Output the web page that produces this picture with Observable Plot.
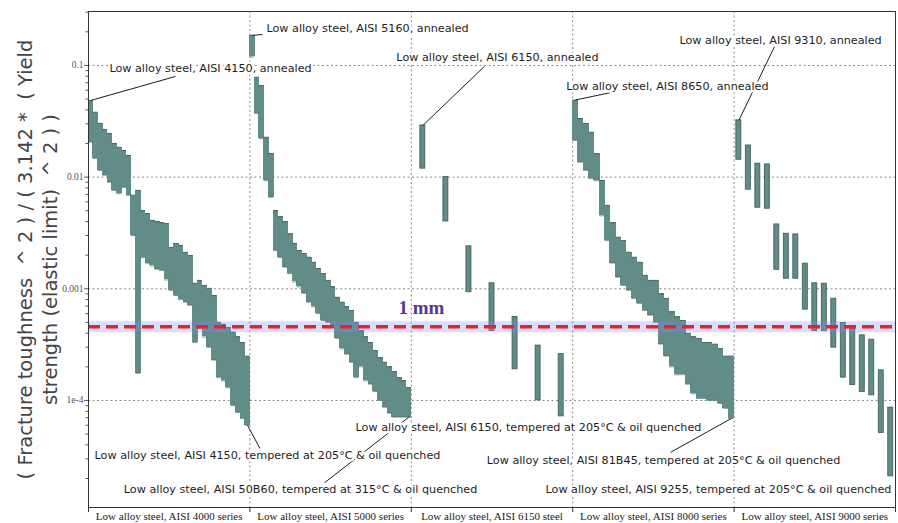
<!DOCTYPE html>
<html><head><meta charset="utf-8">
<script src="https://cdn.jsdelivr.net/npm/d3@7"></script>
<script src="https://cdn.jsdelivr.net/npm/@observablehq/plot@0.6"></script>
<style>
html,body{margin:0;padding:0;background:#fff;}
#chart svg{background:#fff;}
</style>
</head><body><div id="chart"></div>
<script>
// ---------- data ----------
const groups = [
  "Low alloy steel, AISI 4000 series",
  "Low alloy steel, AISI 5000 series",
  "Low alloy steel, AISI 6150 steel",
  "Low alloy steel, AISI 8000 series",
  "Low alloy steel, AISI 9000 series"
];

const hi4000 = [0.0486,0.0382,0.0303,0.0267,0.0246,0.0200,0.0185,0.0173,0.0156,0.0069,0.0076,0.0050,0.0047,0.0041,0.0040,0.0039,0.00385,0.00235,0.00255,0.00245,0.00212,0.00199,0.00112,0.00119,0.00107,0.00101,0.00087,0.00050,0.00048,0.00045,0.00041,0.00037,0.00033,0.00025];
const lo4000 = [0.0206,0.0147,0.0115,0.0104,0.0090,0.0076,0.0071,0.0081,0.0069,0.0030,0.000175,0.0019,0.0017,0.0016,0.0015,0.00146,0.0012,0.00097,0.00087,0.00080,0.00076,0.00071,0.00033,0.00044,0.00037,0.00030,0.00023,0.00016,0.00015,0.00013,0.00009,0.000078,0.000069,0.000060];

const hi5000 = [0.186,0.0786,0.0662,0.0228,0.0163,0.0050,0.0044,0.0040,0.0031,0.00255,0.00221,0.00207,0.00192,0.00173,0.00152,0.00137,0.00119,0.00104,0.00084,0.00076,0.00069,0.00064,0.00050,0.00042,0.00037,0.00033,0.00028,0.00024,0.00022,0.00020,0.00018,0.00016,0.00015,0.00013];
const lo5000 = [0.119,0.0372,0.0222,0.0093,0.0066,0.0022,0.0019,0.00156,0.00137,0.00115,0.00104,0.00091,0.00076,0.00069,0.00060,0.00052,0.00050,0.00045,0.00036,0.00029,0.00026,0.00022,0.00016,0.00020,0.00015,0.00014,0.00012,0.00010,0.000087,0.000077,0.000071,0.000071,0.000071,0.000071];

const hi6150 = [0.029,0.010,0.0024,0.00112,0.00056,0.00031,0.00026];
const lo6150 = [0.0119,0.0040,0.00093,0.00042,0.00019,0.00010,0.000072];

const hi8000 = [0.049,0.0333,0.0301,0.0253,0.0162,0.0093,0.0056,0.0039,0.0029,0.0027,0.00213,0.00192,0.00173,0.00132,0.00119,0.00119,0.00090,0.00082,0.00062,0.00056,0.00052,0.00040,0.00037,0.00036,0.00033,0.00033,0.00032,0.00029,0.00025,0.00025];
const lo8000 = [0.0213,0.0136,0.0115,0.0097,0.0093,0.0045,0.0027,0.0017,0.00127,0.00107,0.00097,0.00082,0.00074,0.00064,0.00058,0.00050,0.00032,0.00025,0.00020,0.00017,0.00017,0.00014,0.000115,0.000104,0.000104,0.000100,0.000100,0.000094,0.000085,0.000069];

const hi9000 = [0.0322,0.0192,0.0132,0.0130,0.00377,0.00311,0.00307,0.00168,0.00112,0.00111,0.000815,0.000493,0.000440,0.000383,0.000350,0.000186,0.0000863];
const lo9000 = [0.0143,0.00771,0.00532,0.00521,0.00148,0.00123,0.00123,0.00065,0.000418,0.000418,0.000297,0.000160,0.000137,0.000119,0.000111,0.0000511,0.0000209];

const yTicks = [1e-4, 1e-3, 1e-2, 1e-1];
const yTickLabels = ["1e-4", "0.001", "0.01", "0.1"];
const yMinorTicks = [2e-5,3e-5,4e-5,5e-5,6e-5,7e-5,8e-5,9e-5,
  2e-4,3e-4,4e-4,5e-4,6e-4,7e-4,8e-4,9e-4,
  2e-3,3e-3,4e-3,5e-3,6e-3,7e-3,8e-3,9e-3,
  0.02,0.03,0.04,0.05,0.06,0.07,0.08,0.09,0.2,0.3];
const yTitle = ["( Fracture toughness \u00A0^ 2 ) / ( 3.142 * \u00A0( Yield",
                "strength (elastic limit) \u00A0^ 2 ) )"];
const thresholdValue = 4.57e-4;
const thresholdLabel = "1 mm";

const annotationTexts = [
  "Low alloy steel, AISI 4150, annealed",
  "Low alloy steel, AISI 5160, annealed",
  "Low alloy steel, AISI 6150, annealed",
  "Low alloy steel, AISI 8650, annealed",
  "Low alloy steel, AISI 9310, annealed",
  "Low alloy steel, AISI 4150, tempered at 205°C & oil quenched",
  "Low alloy steel, AISI 50B60, tempered at 315°C & oil quenched",
  "Low alloy steel, AISI 6150, tempered at 205°C & oil quenched",
  "Low alloy steel, AISI 81B45, tempered at 205°C & oil quenched",
  "Low alloy steel, AISI 9255, tempered at 205°C & oil quenched"
];

// ---------- layout (annotation placement, in data units) ----------
const annLayout = [
  {bar:[0,0,"hi"],  tx:0.756, ty:0.094,   lx:0.539, ly:0.0797},
  {bar:[1,0,"hi"],  tx:1.729, ty:0.214,   lx:1.078, ly:0.189},
  {bar:[2,0,"hi"],  tx:2.534, ty:0.118,   lx:2.453, ly:0.098},
  {bar:[3,0,"hi"],  tx:3.587, ty:0.0648,  lx:3.232, ly:0.0570},
  {bar:[4,0,"hi"],  tx:4.288, ty:0.1675,  lx:4.250, ly:0.147},
  {bar:[0,-1,"lo"], tx:1.109, ty:3.23e-5, lx:1.062, ly:3.72e-5},
  {bar:[1,-1,"lo"], tx:1.314, ty:1.60e-5, lx:1.462, ly:1.83e-5},
  {bar:null,        tx:2.726, ty:5.74e-5},
  {bar:[3,-1,"lo"], tx:3.563, ty:2.91e-5, lx:3.606, ly:3.43e-5},
  {bar:null,        tx:3.903, ty:1.60e-5}
];

// ---------- build ----------
const series = [
  {hi: hi4000, lo: lo4000},
  {hi: hi5000, lo: lo5000},
  {hi: hi6150, lo: lo6150},
  {hi: hi8000, lo: lo8000},
  {hi: hi9000, lo: lo9000}
];
const rows = series.flatMap((s, g) => s.hi.map((h, j) => {
  const n = s.hi.length;
  return {g, j, n, hi: h, lo: s.lo[j], x1: g + j / n, x2: g + (j + 1) / n, xc: g + (j + 0.5) / n};
}));

const W = 898, H = 523, mL = 88, mR = 3, mT = 11, mB = 16;
const teal = "#618c87", edge = "#3a5955";
const barW = 5;

const barMarks = series.flatMap((s, g) => {
  const n = s.hi.length;
  const slot = (W - mL - mR) / 5 / n;
  const dense = slot < 7;
  const inset = dense ? -0.4 : (slot - barW) / 2;
  const data = rows.filter(r => r.g === g);
  const m = [Plot.rect(data, {x1: "x1", x2: "x2", y1: "lo", y2: "hi", fill: teal,
    insetLeft: inset, insetRight: inset, shapeRendering: dense ? "crispEdges" : "auto",
    stroke: dense ? "none" : edge, strokeWidth: dense ? 0 : 0.8})];
  if (dense) {
    m.push(Plot.ruleY(data, {x1: "x1", x2: "x2", y: "hi", stroke: edge, strokeWidth: 0.8, strokeOpacity: 0.8}));
    m.push(Plot.ruleY(data, {x1: "x1", x2: "x2", y: "lo", stroke: edge, strokeWidth: 0.8, strokeOpacity: 0.8}));
  }
  return m;
});

const annRows = annotationTexts.map((t, i) => ({text: t, ...annLayout[i]}));
const leaderRows = annRows.filter(a => a.bar).map(a => {
  const [g, j, end] = a.bar;
  const gr = rows.filter(r => r.g === g);
  const b = j < 0 ? gr[gr.length - 1] : gr[j];
  return {x1: b.xc, y1: b[end], x2: a.lx, y2: a.ly};
});

const chart = Plot.plot({
  width: W, height: H,
  marginLeft: mL, marginRight: mR, marginTop: mT, marginBottom: mB,
  x: {domain: [0, 5], axis: null},
  y: {type: "log", domain: [1.1e-5, 0.304], axis: null},
  style: {background: "#fff"},
  marks: [
    Plot.ruleY(yTicks, {stroke: "#8a8a8a", strokeDasharray: "2,2.5", strokeWidth: 1}),
    Plot.ruleX([1, 2, 3, 4], {stroke: "#8a8a8a", strokeDasharray: "2,2.5", strokeWidth: 1}),
    ...barMarks,
    Plot.ruleY([thresholdValue], {stroke: "#8090ff", strokeOpacity: 0.3, strokeWidth: 11}),
    Plot.ruleY([thresholdValue], {stroke: "#e6222b", strokeWidth: 3.5, strokeDasharray: "12,6"}),
    Plot.text([thresholdLabel], {x: 2.063, y: 6.68e-4, text: d => d, fontFamily: "Liberation Serif",
      fontWeight: "bold", fontSize: 19, fill: "#553590"}),
    Plot.link(leaderRows, {x1: "x1", y1: "y1", x2: "x2", y2: "y2", stroke: "#1e1e1e", strokeWidth: 1}),
    Plot.text(annRows, {x: "tx", y: "ty", text: "text", fontFamily: "DejaVu Sans", fontSize: 11.2,
      fill: "#1e1e1e", stroke: "white", strokeWidth: 5}),
    Plot.frame({stroke: "#333", strokeWidth: 1}),
    Plot.axisY(yTicks, {tickSize: 4, tickPadding: 1, tickFormat: d => yTickLabels[yTicks.indexOf(d)],
      fontFamily: "Liberation Serif", fontSize: 9.5, color: "#555"}),
    Plot.axisY(yMinorTicks.filter(v => v > 1.1e-5 && v < 0.304), {tickSize: 2.5, tickFormat: () => "", color: "#555"}),
    Plot.axisX([0, 1, 2, 3, 4, 5], {tickSize: 5, tickFormat: () => "", color: "#333"}),
    Plot.axisX([0.5, 1.5, 2.5, 3.5, 4.5], {tickSize: 0, tickPadding: 5,
      tickFormat: d => groups[Math.floor(d)], fontFamily: "Liberation Serif", fontSize: 11, color: "#222"}),
    Plot.text([yTitle[0]], {frameAnchor: "left", dx: -63, rotate: -90, textAnchor: "middle", text: d => d,
      fontFamily: "DejaVu Sans", fontSize: 19.5, fill: "#444"}),
    Plot.text([yTitle[1]], {frameAnchor: "left", dx: -38, rotate: -90, textAnchor: "middle", text: d => d,
      fontFamily: "DejaVu Sans", fontSize: 19.5, fill: "#444"})
  ]
});
document.getElementById("chart").appendChild(chart);
</script>
</body></html>
